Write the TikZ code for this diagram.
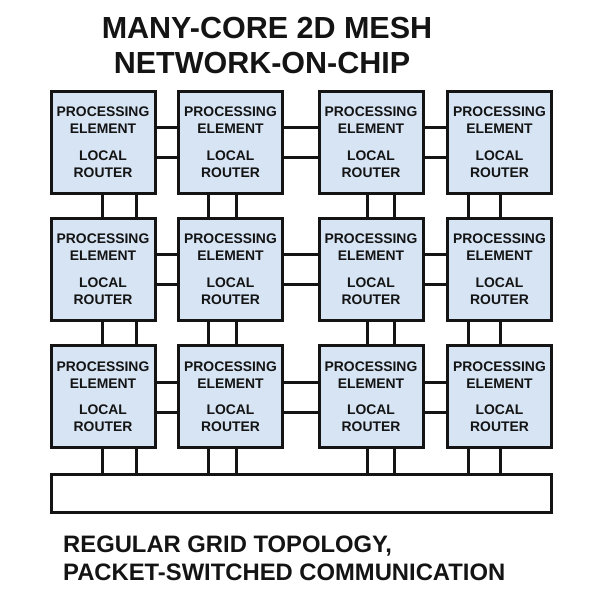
\documentclass[tikz,border=0pt]{standalone}
\usepackage{fontspec}
\setmainfont{Liberation Sans}
\usetikzlibrary{calc}
\definecolor{peblue}{RGB}{214,228,244}
\definecolor{ink}{RGB}{20,20,20}
\begin{document}
\begin{tikzpicture}[x=1pt,y=-1pt,
  pe/.style={draw=ink,line width=3pt,fill=peblue,minimum width=104pt,minimum height=102pt,
             inner sep=0pt,align=center,text=ink,font=\fontsize{13.9}{17}\selectfont\bfseries},
  bar/.style={draw=ink,line width=3pt,fill=white,minimum width=500pt,minimum height=38pt,inner sep=0pt},
  link/.style={draw=ink,line width=3pt},
  title/.style={inner sep=0pt,anchor=base,text=ink,font=\fontsize{30.5}{35}\selectfont\bfseries},
  caption/.style={inner sep=0pt,anchor=base west,text=ink,font=\fontsize{23.8}{28}\selectfont\bfseries}]
\useasboundingbox (0,0) rectangle (602,602);
\fill[white] (0,0) rectangle (602,602);
% title
\node[title] (t1) at (267,39) {MANY-CORE 2D MESH};
\node[title] (t2) at (262,74) {NETWORK-ON-CHIP};
% processing elements
\foreach \r/\y in {1/142,2/269,3/396.5}{
  \foreach \c/\x in {1/103,2/230.5,3/371,4/499.5}{
    \node[pe] (b\r\c) at (\x,\y) {PROCESSING\\ELEMENT\\[9.5pt]LOCAL\\ROUTER};
  }
}
% bus
\node[bar] (bus) at (301,493) {};
% horizontal links
\foreach \r in {1,2,3}{
  \foreach \c/\n in {1/2,2/3,3/4}{
    \draw[link] ($(b\r\c.north east)+(0,38)$) -- ($(b\r\n.north west)+(0,38)$);
    \draw[link] ($(b\r\c.north east)+(0,68)$) -- ($(b\r\n.north west)+(0,68)$);
  }
}
% vertical links
\foreach \c/\xa/\xb in {1/102/136,2/208/236,3/367/394,4/468/500}{
  \foreach \r/\n in {1/2,2/3}{
    \draw[link] (b\r\c.south -| \xa,0) -- (b\n\c.north -| \xa,0);
    \draw[link] (b\r\c.south -| \xb,0) -- (b\n\c.north -| \xb,0);
  }
  \draw[link] (b3\c.south -| \xa,0) -- (bus.north -| \xa,0);
  \draw[link] (b3\c.south -| \xb,0) -- (bus.north -| \xb,0);
}
% caption
\node[caption] (c1) at (63,552) {REGULAR GRID TOPOLOGY,};
\node[caption] (c2) at (63,580) {PACKET-SWITCHED COMMUNICATION};
\end{tikzpicture}
\end{document}
